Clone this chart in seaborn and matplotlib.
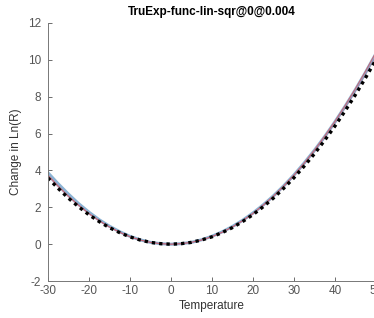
import numpy as np
import pandas as pd
import seaborn as sns
import matplotlib
matplotlib.use("Agg")
import matplotlib.pyplot as plt

# temperatures sampled along the curves
temps = [-30, -27.5, -25, -22.5, -20, -17.5, -15, -12.5, -10, -7.5, -5, -2.5, 0,
         2.5, 5, 7.5, 10, 12.5, 15, 17.5, 20, 22.5, 25, 27.5, 30, 32.5, 35,
         37.5, 40, 42.5, 45, 47.5, 50]

# black dotted "true" curve
true_vals = [3.6, 3.03, 2.5, 2.03, 1.6, 1.23, 0.9, 0.63, 0.4, 0.23, 0.1, 0.03, 0.0,
             0.03, 0.1, 0.23, 0.4, 0.63, 0.9, 1.23, 1.6, 2.03, 2.5, 3.03, 3.6, 4.23, 4.9,
             5.63, 6.4, 7.23, 8.1, 9.03, 10.0]

# fitted curves, slightly above the true one at the ends
blue_vals = [3.88, 3.28, 2.72, 2.2, 1.74, 1.33, 0.98, 0.68, 0.43, 0.24, 0.1, 0.03, 0.0,
             0.03, 0.1, 0.24, 0.43, 0.67, 0.96, 1.3, 1.69, 2.13, 2.62, 3.16, 3.75, 4.4, 5.09,
             5.83, 6.63, 7.48, 8.38, 9.33, 10.33]
red_vals = [3.75, 3.16, 2.61, 2.12, 1.67, 1.28, 0.94, 0.65, 0.41, 0.23, 0.1, 0.03, 0.0,
            0.03, 0.1, 0.23, 0.41, 0.65, 0.94, 1.28, 1.67, 2.12, 2.61, 3.16, 3.75, 4.4, 5.1,
            5.86, 6.66, 7.52, 8.43, 9.39, 10.4]
grey_vals = [3.7, 3.12, 2.58, 2.09, 1.65, 1.26, 0.93, 0.64, 0.41, 0.23, 0.1, 0.03, 0.0,
             0.03, 0.1, 0.23, 0.41, 0.64, 0.92, 1.26, 1.64, 2.08, 2.56, 3.1, 3.69, 4.33, 5.02,
             5.76, 6.55, 7.39, 8.28, 9.22, 10.2]

plt.rcParams['font.family'] = ['Liberation Sans', 'DejaVu Sans']
plt.rcParams['axes.unicode_minus'] = False

fig = plt.figure(figsize=(3.74, 3.18), dpi=100)
ax = fig.add_axes([0.128, 0.116, 0.877, 0.812])

sns.lineplot(x=temps, y=blue_vals, ax=ax, color='#6f9fc8', linewidth=2.2, alpha=0.8)
sns.lineplot(x=temps, y=grey_vals, ax=ax, color='#9a8fb0', linewidth=1.0, alpha=0.8)
sns.lineplot(x=temps, y=red_vals, ax=ax, color='#d9505a', linewidth=0.7, alpha=0.8)
sns.lineplot(x=temps, y=true_vals, ax=ax, color='black', linewidth=2.4, linestyle=(0, (1, 1.2)))

ax.set_xlim(-30, 50)
ax.set_ylim(-2, 12)
ax.set_xticks(range(-30, 51, 10))
ax.set_yticks(range(-2, 13, 2))
ax.tick_params(direction='in', length=3, width=0.6, colors='#555555', labelsize=8.5)
ax.tick_params(axis='y', pad=5)
ax.tick_params(axis='x', pad=3)
for s in ['top', 'right']:
    ax.spines[s].set_visible(False)
for s in ['left', 'bottom']:
    ax.spines[s].set_color('#777777')
    ax.spines[s].set_linewidth(0.7)

ax.set_xlabel('Temperature', fontsize=8.5, color='#333333', labelpad=2)
ax.set_ylabel('Change in Ln(R)', fontsize=8.5, color='#333333', labelpad=4)
ax.set_title('TruExp-func-lin-sqr@0@0.004', fontsize=8.5, fontweight='bold', pad=6)

fig.savefig('out.png', dpi=100)
